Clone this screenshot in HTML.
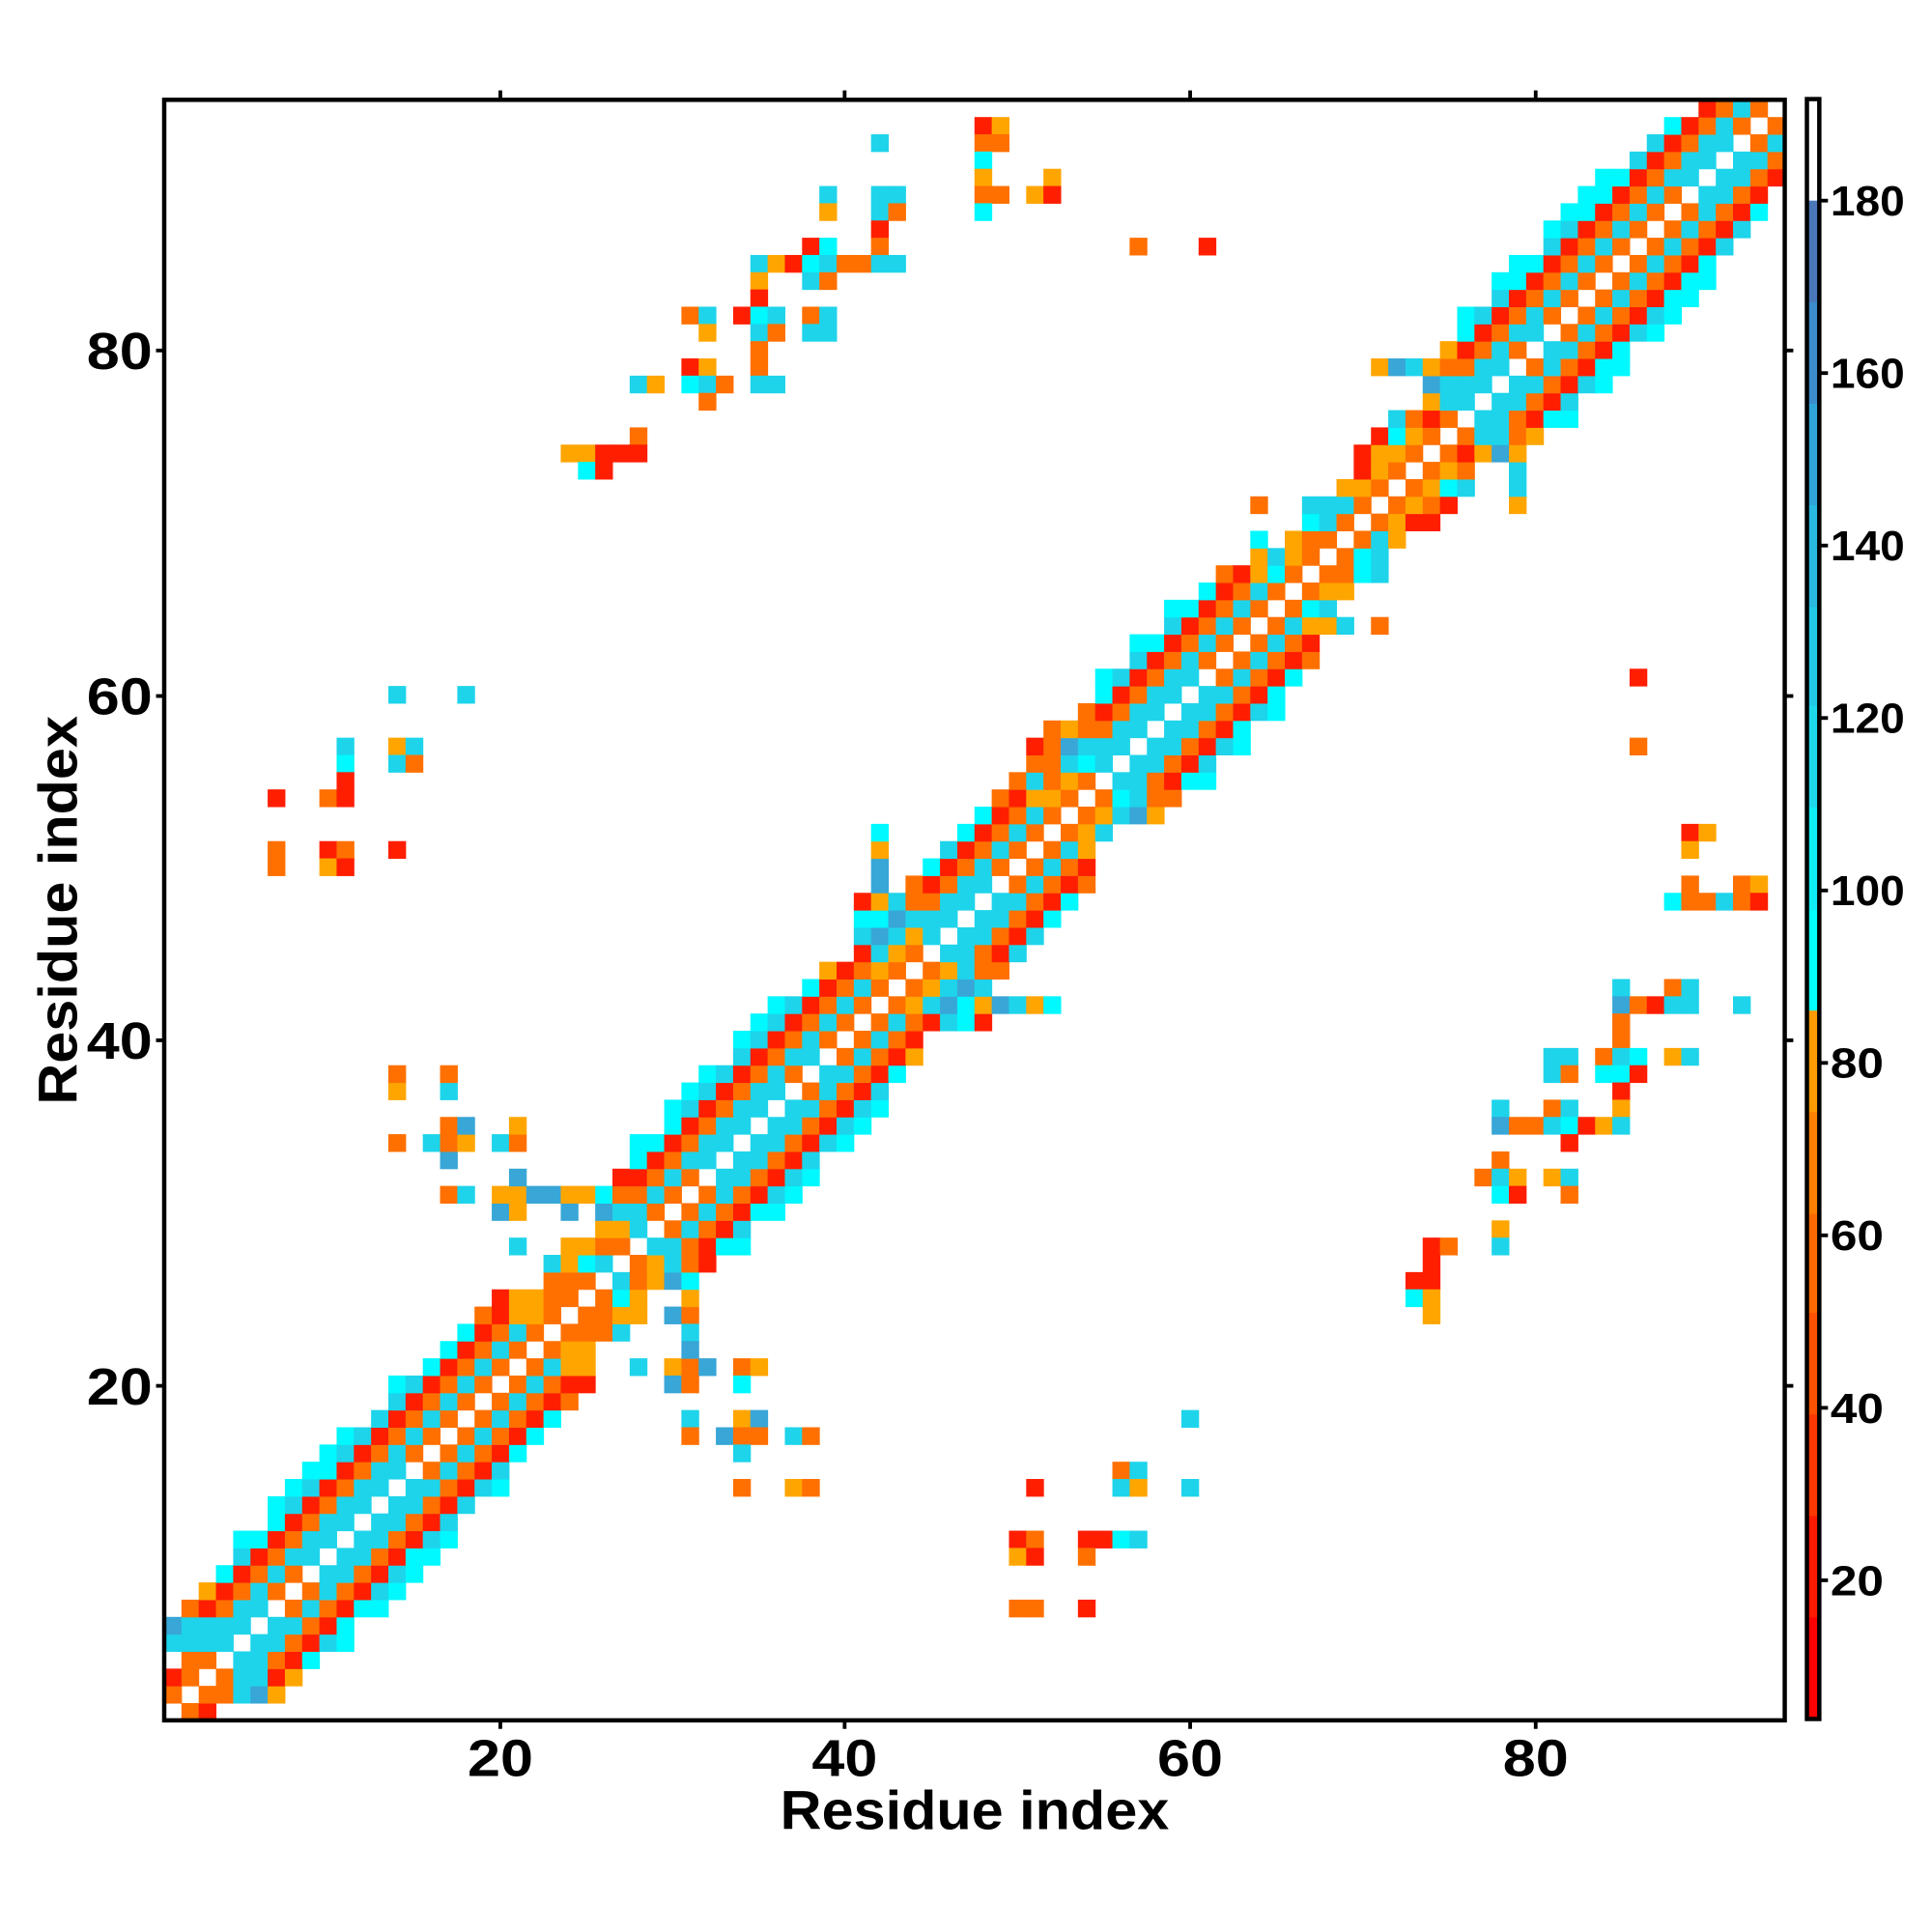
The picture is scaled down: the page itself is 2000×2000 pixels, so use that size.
<!DOCTYPE html>
<html><head><meta charset="utf-8"><style>
html,body{margin:0;padding:0;background:#fff;}
svg{display:block;}
text{font-family:"Liberation Sans",Arial,sans-serif;font-weight:bold;fill:#000;}
</style></head><body>
<svg id="s" xmlns="http://www.w3.org/2000/svg" width="2000" height="2000" viewBox="0 0 1560 1560">
<rect width="1560" height="1560" fill="#fff"/>
<g id="cells"></g>
<rect x="132.6" y="80.6" width="1308.5" height="1308.5" fill="none" stroke="#000" stroke-width="3.5"/>
<g stroke="#000" stroke-width="3">
<line x1="404" y1="80" x2="404" y2="73"/><line x1="682" y1="80" x2="682" y2="73"/><line x1="961" y1="80" x2="961" y2="73"/><line x1="1240" y1="80" x2="1240" y2="73"/>
<line x1="404" y1="1389" x2="404" y2="1396"/><line x1="682" y1="1389" x2="682" y2="1396"/><line x1="961" y1="1389" x2="961" y2="1396"/><line x1="1240" y1="1389" x2="1240" y2="1396"/>
<line x1="1441" y1="283" x2="1448" y2="283"/><line x1="1441" y1="562" x2="1448" y2="562"/><line x1="1441" y1="840" x2="1448" y2="840"/><line x1="1441" y1="1119" x2="1448" y2="1119"/>
<line x1="133" y1="283" x2="126" y2="283"/><line x1="133" y1="562" x2="126" y2="562"/><line x1="133" y1="840" x2="126" y2="840"/><line x1="133" y1="1119" x2="126" y2="1119"/>
</g>
<g font-size="42" text-anchor="end">
<text x="123" y="298" textLength="53" lengthAdjust="spacingAndGlyphs">80</text>
<text x="123" y="577" textLength="53" lengthAdjust="spacingAndGlyphs">60</text>
<text x="123" y="855" textLength="53" lengthAdjust="spacingAndGlyphs">40</text>
<text x="123" y="1134" textLength="53" lengthAdjust="spacingAndGlyphs">20</text>
</g>
<g font-size="42" text-anchor="middle">
<text x="404" y="1434" textLength="53" lengthAdjust="spacingAndGlyphs">20</text>
<text x="682" y="1434" textLength="53" lengthAdjust="spacingAndGlyphs">40</text>
<text x="961" y="1434" textLength="53" lengthAdjust="spacingAndGlyphs">60</text>
<text x="1240" y="1434" textLength="53" lengthAdjust="spacingAndGlyphs">80</text>
</g>
<text x="787" y="1477" font-size="44" text-anchor="middle" textLength="314" lengthAdjust="spacingAndGlyphs">Residue index</text>
<text transform="translate(62,735) rotate(-90)" font-size="44" text-anchor="middle" textLength="314" lengthAdjust="spacingAndGlyphs">Residue index</text>
<g id="cb"></g>
<rect x="1459" y="80" width="10" height="1308" fill="none" stroke="#000" stroke-width="3.5"/>
<g id="cbt" font-size="34"></g>
</svg>
<script>
var P=13.92,L=132.6,T=80.6;
var col={R:"#ff1e00",O:"#ff7000",A:"#ffa500",C:"#00f8ff",B:"#1ed4ea",D:"#38a6d6"};
var d=[
[1,2,"OR"],[2,1,"OWOOBDA"],[3,1,"ROWOBBRA"],[4,2,"OOWBBORC"],[5,1,"BBBBWBBORBC"],[6,1,"DBBBBWBBORC"],
[7,2,"OROBBWOBORCC"],[8,3,"AROBOWOBORBC"],[9,4,"CROBOWBBORBC"],[10,5,"BROBBWBBORCC"],[11,5,"CCROBBWBBORBC"],
[12,7,"CROBBWBBORB"],[13,7,"CBROBBWBBORB"],[14,8,"CBROBBWBBORBC"],[15,9,"CCROBBWOBORB"],[16,10,"CBROBOWOBORC"],
[17,11,"CBROBOWOBORC"],[18,13,"BROBOWOBORC"],[19,14,"BROBOWOBORO"],[20,14,"CBROBOWOBORR"],
[21,16,"CROBOWOBAA..B.AOD.OA"],[22,17,"CROBOWOAA"],[23,18,"CROBOWOOOB"],[24,19,"ORAAOWOOAA.DO"],
[25,20,"RAAOOWOCA..A"],[26,23,"OOOWBOADC"],[27,23,"BACBWOABOR"],[28,21,"B..AAOOWBBORCC"],[29,26,"AABWOBORB"],
[30,20,"DA..D.DBBOWOBORCC"],[31,17,"OB.AADDAACOOBOWOBORBC"],[32,21,"D.....RROBOWBBORBC"],
[33,17,"D"],[33,28,"CROBBWBBORB"],[34,14,"O.BOA.BO"],[34,28,"CCROBBWBBORBC"],[35,17,"OD..A"],[35,30,"CROBBWBBORBC"],
[36,30,"CBROBBWBBORBC"],[37,14,"A..B"],[37,31,"CBROBBWOBORB"],[38,14,"O..O"],[38,32,"CBROBOWBBORC"],
[39,34,"BROBBWOBORA"],[40,34,"CBROBOWOBOR"],[41,35,"CBROBOWOBORBCR"],[42,36,"CBROBOWOABDCADBAC"],
[43,38,"CROBOWOABDB"],[44,39,"AROAOWOABOO"],[45,41,"RBAOWBBORB"],[46,41,"BDBABWBBORB"],[47,41,"CCDBBBWBBORC"],
[48,41,"RABOOBBWBBORC"],[49,42,"D.OROBBWOBORO"],[50,42,"D..CROBOWOBOR"],[51,42,"A...BROBOWOBA"],
[52,42,"C....CROBOWOAB"],[53,48,"CROBOWOABDA"],[54,49,"ORAAOWOCBOO"],[55,50,"OBOAOWBBORCC"],
[56,51,"OOBCBWBBORB"],[57,51,"RODBBBWBBORBC"],[58,52,"OAOOBBWBBORC"],[59,54,"OROBBWBBORBC"],
[60,55,"CROBBWBBORC"],[61,55,"CBROBBWOBORC"],[62,57,"BROBOWOBORO"],[63,57,"CCROBOWOBOR"],
[64,59,"BROBOWOBAAB.O"],[65,59,"CCROBOWOCB"],[66,61,"CROBOWOAA"],[67,62,"ORACOWOOCB"],[68,64,"ABAOWOCB"],
[69,64,"C.AOOWOBA"],[70,67,"CBOWOARR"],[71,64,"O..BBBOWOAOR...A"],[72,69,"AAOWOACB..B"],[73,70,"RAOWOAO..B"],
[74,70,"RAAOWORADA"],[75,71,"RCAOWOBBOA"],[76,72,"BOROWBBORCC"],[77,74,"ABBWBBORB"],[78,74,"DBBBWBBORBC"],
[79,71,"ADBAOOBBWOBORCC"],[80,75,"AROBOWBBORC"],[81,76,"CROBBWOBORBC"],[82,76,"CBROBOWOBORBC"],
[83,78,"BROBOWOBORCC"],[84,78,"CCROBOWOBORCC"],[85,79,"CCROBOWOBORC"],[86,81,"BROBOWOBORB"],
[87,81,"CBROBOWOBORB"],[88,82,"CCROBOWOBORC"],[89,83,"CCROBOWBBOR"],[90,84,"CCROBBWBBOR"],
[91,86,"BROBBWBBO"],[92,87,"BROBBWOB"],[93,88,"CROBOWO"],[94,90,"ROBOW"],
[60,14,"B...B"],[57,11,"B..AB"],[56,11,"C..BO"],[55,11,"R"],[54,7,"R..OR"],[51,7,"O..RO..R"],[50,7,"O..AR"],
[23,31,"B"],[22,31,"D"],[20,30,"DO..C"],[18,31,"B..AD"],[18,60,"B"],[17,31,"O.DOO.BO"],[16,34,"B"],[15,56,"OB"],
[14,34,"O..AO"],[14,51,"R....BA..B"],[11,50,"RO..RRCB"],[10,50,"AR..O"],[7,50,"OO..R"],
[93,48,"RA"],[92,42,"B.....OO"],[91,48,"C"],[90,48,"A...A"],[89,39,"B..BB....OO.AR"],[88,39,"A..BO....C"],
[87,42,"R"],[86,38,"RC..O"],[86,57,"O...R"],[85,35,"BARCBOOBB"],[84,35,"A..BO"],[83,35,"R"],
[82,31,"OB.RCB.OB"],[81,32,"A..BO.BB"],[80,35,"O"],[79,31,"RA..O"],[78,28,"BA.CBO.BB"],[77,32,"O"],
[75,28,"O"],[74,24,"AARRR"],[73,25,"CR"],
[61,86,"R"],[57,86,"O"],[52,89,"RA"],[51,89,"A"],[49,89,"O..OA"],[48,88,"COOBOR"],[43,85,"B..OB"],
[42,85,"DORBB..B"],[41,85,"O"],[40,85,"O"],[39,81,"BB.OBC.AB"],[38,81,"BO.CCR"],[37,85,"R"],
[36,78,"B..OB..A"],[35,78,"DOOBCRAB"],[34,82,"R"],[33,78,"O"],[32,77,"OBA.AB"],[31,78,"CR..O"],
[29,78,"A"],[28,74,"RO..B"],[27,74,"R"],[26,73,"RR"],[25,73,"CA"],[24,74,"A"]
];
var NS="http://www.w3.org/2000/svg",g=document.getElementById("cells");
function R(x,y,w,h,f,p){var e=document.createElementNS(NS,"rect");e.setAttribute("x",x);e.setAttribute("y",y);e.setAttribute("width",w);e.setAttribute("height",h);e.setAttribute("fill",f);p.appendChild(e);}
d.forEach(function(a){var r=a[0],c0=a[1],s=a[2];for(var i=0;i<s.length;i++){var ch=s[i];if(!col[ch])continue;var c=c0+i;if(c>94)continue;
R((L+(c-1)*P).toFixed(2),(T+(94-r)*P).toFixed(2),(P+0.4).toFixed(2),(P+0.4).toFixed(2),col[ch],g);}});
var cb=document.getElementById("cb");
var bands=[[80,162,"#ffffff"],[162,244,"#4a78b8"],[244,326,"#3c8ccc"],[326,408,"#30a4d8"],[408,490,"#28b8e0"],[490,570,"#22c8e6"],[570,652,"#1ed7eb"],[652,735,"#10ecf5"],[735,816,"#00ffff"],[816,898,"#ff9a00"],[898,980,"#ff8000"],[980,1060,"#ff6a00"],[1060,1142,"#ff5200"],[1142,1224,"#ff3800"],[1224,1306,"#ff1a00"],[1306,1388,"#ff0000"]];
bands.forEach(function(b){R(1459,b[0],10,b[1]-b[0]+0.5,b[2],cb);});
var cbt=document.getElementById("cbt"),vals=[180,160,140,120,100,80,60,40,20];
vals.forEach(function(v){var y=162+(180-v)*6.9625;
var l=document.createElementNS(NS,"line");l.setAttribute("x1",1469);l.setAttribute("x2",1476);l.setAttribute("y1",y);l.setAttribute("y2",y);l.setAttribute("stroke","#000");l.setAttribute("stroke-width","3");cbt.appendChild(l);
var t=document.createElementNS(NS,"text");t.setAttribute("x",1478);t.setAttribute("y",y+12);t.textContent=String(v);
t.setAttribute("textLength",v>=100?60:43);t.setAttribute("lengthAdjust","spacingAndGlyphs");cbt.appendChild(t);});
</script>
</body></html>
